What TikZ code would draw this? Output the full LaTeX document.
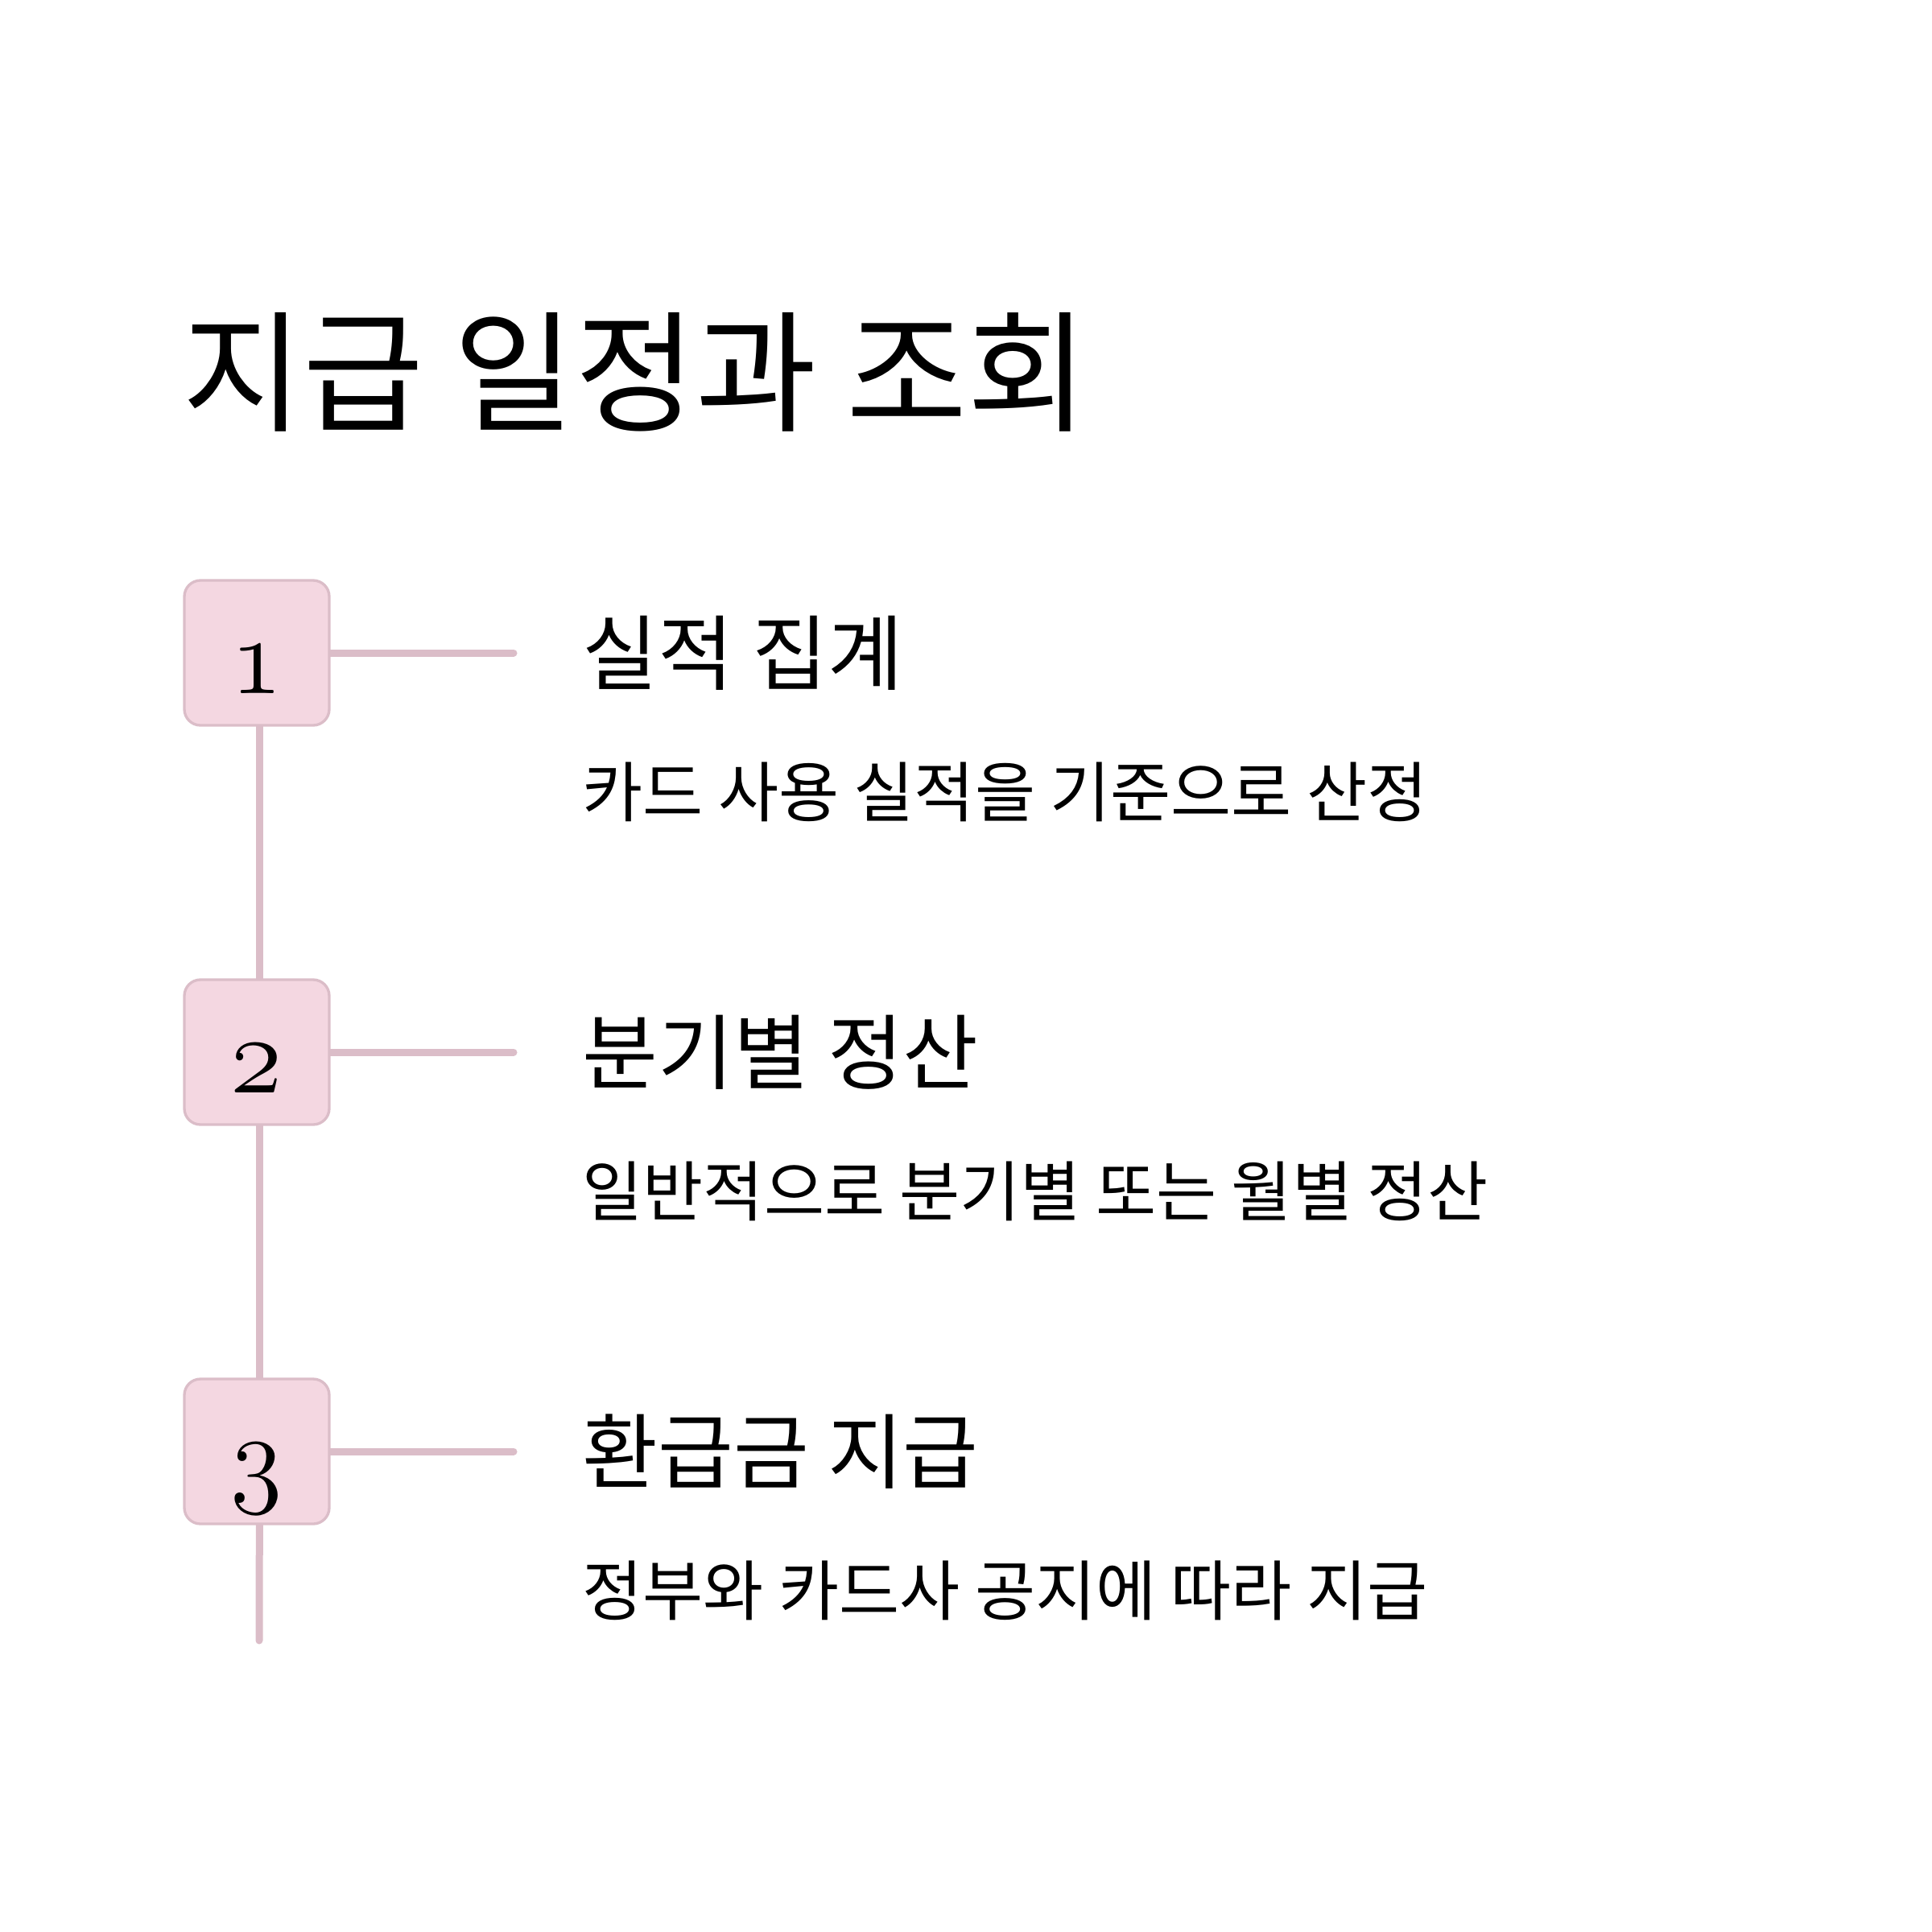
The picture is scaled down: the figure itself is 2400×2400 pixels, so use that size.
\documentclass[tikz,border=0pt]{standalone}
\usepackage{fontspec}
\setmainfont{Noto Sans CJK KR}
\usepackage{xcolor}
\usepackage{graphicx}
\definecolor{dnhong}{HTML}{F4D7E1}
\definecolor{dnvien}{HTML}{DBBDC8}
\def\mycolor{dnhong}
\def\mauvien{dnvien}
\newcommand{\socu}[1]{\scalebox{1.9}[2]{\fontencoding{OML}\fontfamily{cmm}\fontseries{m}\fontshape{it}\fontsize{22.5}{22.5}\selectfont #1}}
\usetikzlibrary{calc,positioning,backgrounds}

\begin{document}
\begin{tikzpicture}[x=0.3pt,y=-0.3pt]
		\tikzset{
			buoc/.style={draw=\mauvien,line width=1pt,fill=\mycolor,rounded corners=6pt,minimum width=54pt,minimum height=54pt,inner sep=0pt},
			noi/.style={draw=\mauvien,line width=2.7pt,line cap=round},
			sofont/.style={text=black,inner sep=0pt},
			tieudefont/.style={font=\fontsize{49}{58}\selectfont,text=black,inner sep=0pt},
			buocfont/.style={font=\fontsize{30.6}{36}\selectfont,text=black,inner sep=0pt},
			motafont/.style={font=\fontsize{24.5}{30}\selectfont,text=black,inner sep=0pt}
		}
		\useasboundingbox (0,0) rectangle (2400,2400);
		\node[tieudefont,anchor=base west] (tieude) at (226,523) {지급 일정과 조회};
		%%
		\foreach \i/\y/\ten/\mota in{1/811/실적 집계/카드 사용 실적을 기준으로 산정,
			2/1307/분기별 정산/일반적으로 분기별 또는 월별 정산,
			3/1803/환급금 지급/정부와 카드사 공지에 따라 지급}{%
			\node[buoc] (b\i) at (319,\y) {};
			\node[sofont,anchor=base] (s\i) at ([yshift=-15pt]b\i.center) {\socu{\i}};
			\coordinate (c\i) at (638,\y);
			\node[buocfont,anchor=base west] (t\i) at (723,{\y+38}) {\ten};
			\node[motafont,anchor=base west] (m\i) at (723,{\y+203}) {\mota};
		}
		%%%
		\coordinate (cuoi) at (322,2038);
		\begin{scope}[on background layer]
			\foreach \i in{1,2,3}{
				\draw[noi] (b\i.east) -- (c\i);
			}
			\draw[noi] ([xshift=1pt]b1.south) -- ([xshift=1pt]b2.north);
			\draw[noi] ([xshift=1pt]b2.south) -- ([xshift=1pt]b3.north);
			\draw[noi] ([xshift=1pt]b3.south) -- (cuoi);
		\end{scope}
	\end{tikzpicture}
\end{document}
